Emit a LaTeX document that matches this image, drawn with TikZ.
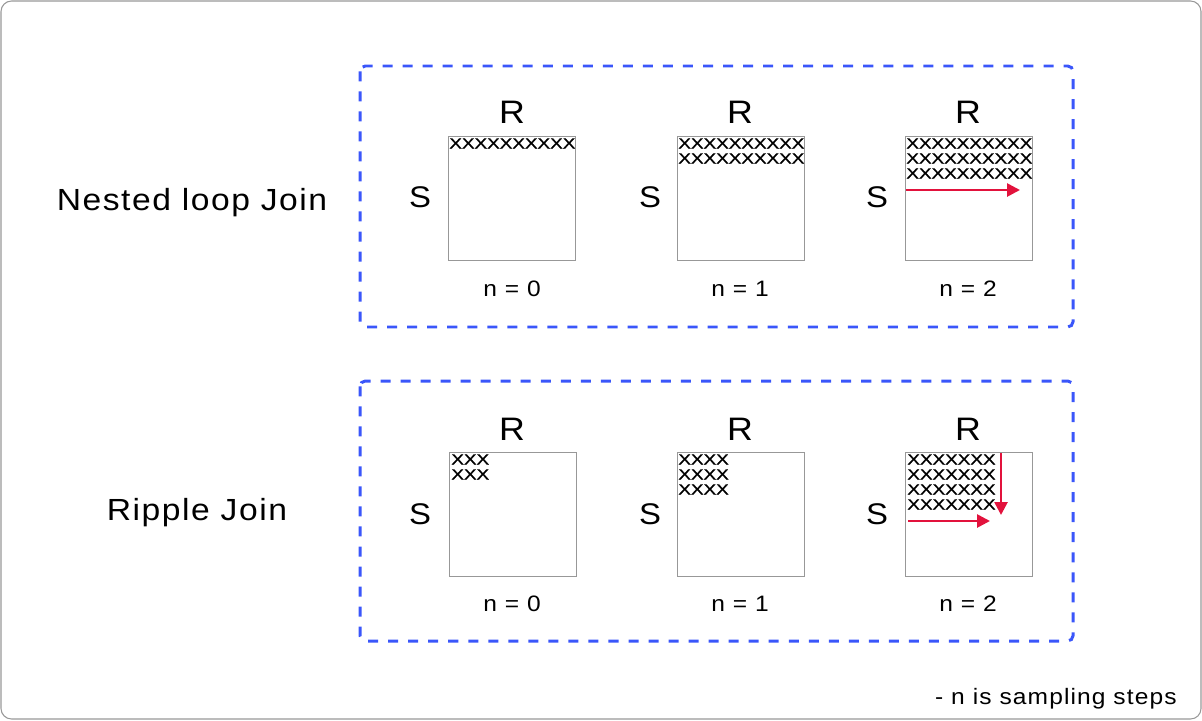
\documentclass[tikz,border=0pt]{standalone}
\usepackage{fontspec}
\usepackage{tikz}
\usetikzlibrary{arrows.meta}

\newfontfamily\labelfont[FakeStretch=1.1, LetterSpace=5]{Liberation Sans}
\newfontfamily\xfont[FakeStretch=1.28, FakeBold=1.2]{Liberation Sans}

\definecolor{dashblue}{RGB}{58,86,250}
\definecolor{sweepred}{RGB}{226,18,60}
\definecolor{edgegray}{RGB}{152,152,152}

\tikzset{
  joinname/.style={anchor=base, inner sep=0pt, font=\labelfont\fontsize{17.4}{20}\selectfont},
  rname/.style={anchor=base, inner sep=0pt, font=\labelfont\fontsize{18.5}{22}\selectfont},
  sname/.style={anchor=base, inner sep=0pt, font=\labelfont\fontsize{17}{20}\selectfont},
  stepname/.style={anchor=base, inner sep=0pt, font=\labelfont\fontsize{12.7}{15}\selectfont},
  cell/.style={draw=edgegray, line width=0.8pt, anchor=north west, inner sep=0pt,
    minimum width=72.3pt, minimum height=70.6pt},
  xrow/.style={anchor=north west, inner sep=0pt, font=\xfont\fontsize{8.4}{9}\selectfont},
  joinbox/.style={draw=dashblue, line width=1.7pt, dash pattern=on 5.7pt off 5.7pt, rounded corners=3pt},
  sweep/.style={draw=sweepred, line width=1.5pt, -{Triangle[length=7.4pt, width=7.4pt]}}
}

\begin{document}
\begin{tikzpicture}[x=0.02cm, y=-0.02cm]
\useasboundingbox (0,0) rectangle (1202,720);
\draw[edgegray, line width=0.6pt, rounded corners=6pt] (1,1) rectangle (1201,719);

% nested loop join
\draw[joinbox] (360,66) rectangle (1073,327);
\node[joinname] (nested) at (192,210) {Nested loop Join};

\node[cell] (nl0) at (448,136) {};
\node[cell] (nl1) at (677,136) {};
\node[cell] (nl2) at (905,136) {};

\node[rname] (nlR0) at (512,123) {R};
\node[rname] (nlR1) at (740,123) {R};
\node[rname] (nlR2) at (968,123) {R};
\node[sname] (nlS0) at (420,207) {S};
\node[sname] (nlS1) at (650,207) {S};
\node[sname] (nlS2) at (877,207) {S};
\node[stepname] (nln0) at (512,296) {n = 0};
\node[stepname] (nln1) at (740,296) {n = 1};
\node[stepname] (nln2) at (968,296) {n = 2};

\node[xrow] (nlx0) at (449,138) {XXXXXXXXXX};
\foreach \i in {0,1}
  \node[xrow] (nlx1-\i) at (678,138+15*\i) {XXXXXXXXXX};
\foreach \i in {0,1,2}
  \node[xrow] (nlx2-\i) at (906,138+15*\i) {XXXXXXXXXX};

\coordinate (nla) at (906,190);
\coordinate (nlb) at (1020,190);
\draw[sweep] (nla) -- (nlb);

% ripple join
\draw[joinbox] (360,381) rectangle (1073,641);
\node[joinname] (ripple) at (197,520) {Ripple Join};

\node[cell] (rp0) at (449,452) {};
\node[cell] (rp1) at (677,452) {};
\node[cell] (rp2) at (905,452) {};

\node[rname] (rpR0) at (512,440) {R};
\node[rname] (rpR1) at (740,440) {R};
\node[rname] (rpR2) at (968,440) {R};
\node[sname] (rpS0) at (420,524) {S};
\node[sname] (rpS1) at (650,524) {S};
\node[sname] (rpS2) at (877,524) {S};
\node[stepname] (rpn0) at (512,611) {n = 0};
\node[stepname] (rpn1) at (740,611) {n = 1};
\node[stepname] (rpn2) at (968,611) {n = 2};

\foreach \i in {0,1}
  \node[xrow] (rpx0-\i) at (451,454+15*\i) {XXX};
\foreach \i in {0,1,2}
  \node[xrow] (rpx1-\i) at (678,454+15*\i) {XXXX};
\foreach \i in {0,1,2,3}
  \node[xrow] (rpx2-\i) at (907,454+15*\i) {XXXXXXX};

\coordinate (rpa) at (1001,453);
\coordinate (rpb) at (1001,515);
\coordinate (rpc) at (908,521);
\coordinate (rpd) at (990,521);
\draw[sweep] (rpa) -- (rpb);
\draw[sweep] (rpc) -- (rpd);

\node[stepname, anchor=base east] (note) at (1177,704) {- n is sampling steps};
\end{tikzpicture}
\end{document}
